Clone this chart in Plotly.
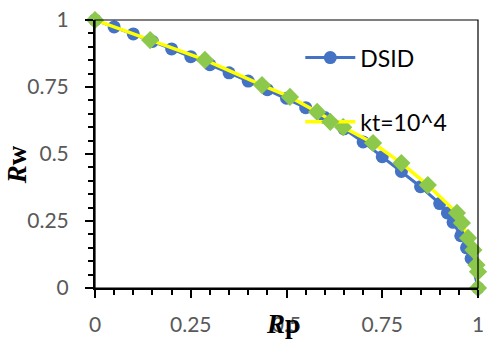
import plotly.graph_objects as go

# ---- data ----
rp_dsid = [0, 0.05, 0.1, 0.15, 0.2, 0.25, 0.3, 0.35, 0.4, 0.45, 0.5, 0.55, 0.6,
           0.65, 0.7, 0.75, 0.8, 0.85, 0.9, 0.92, 0.935, 0.955, 0.97, 0.982, 1.0]
rw_dsid = [1, 0.974, 0.948, 0.92, 0.892, 0.863, 0.833, 0.803, 0.772, 0.74, 0.708,
           0.673, 0.636, 0.594, 0.545, 0.49, 0.435, 0.378, 0.315, 0.28, 0.245,
           0.195, 0.15, 0.11, 0]

rp_kt = [0, 0.144, 0.287, 0.436, 0.509, 0.58, 0.648, 0.726, 0.8, 0.869, 0.945,
         0.958, 0.974, 0.988, 0.996, 1.0, 1.0]
rw_kt = [1, 0.925, 0.851, 0.757, 0.713, 0.657, 0.6, 0.541, 0.466, 0.384, 0.28,
         0.243, 0.187, 0.142, 0.086, 0.061, 0]

tick_vals = [0, 0.25, 0.5, 0.75, 1]
tick_text = ["0", "0.25", "0.5", "0.75", "1"]

series_names = ["DSID", "kt=10^4"]

SANS = "Lato, 'Open Sans', sans-serif"
SERIF = "'Liberation Serif', 'DejaVu Serif', serif"

fig = go.Figure()
fig.add_trace(go.Scatter(
    x=rp_dsid, y=rw_dsid, mode="lines+markers", name=series_names[0],
    line=dict(color="#4472C4", width=3),
    marker=dict(symbol="circle", size=13, color="#4472C4"),
    cliponaxis=False, legend="legend", showlegend=True,
))
fig.add_trace(go.Scatter(
    x=rp_kt, y=rw_kt, mode="lines+markers", name=series_names[1],
    line=dict(color="#FFFF00", width=3.5),
    marker=dict(symbol="diamond", size=14, color="#8CC84B"),
    cliponaxis=False, legend="legend2", showlegend=True,
))

axis_common = dict(
    range=[0, 1], tickvals=tick_vals, ticktext=tick_text, automargin=False,
    showgrid=False, zeroline=False, showline=True, linecolor="black", linewidth=2,
    ticks="outside", ticklen=8, tickwidth=2, tickcolor="black",
    minor=dict(dtick=0.05, ticks="outside", ticklen=5, tickwidth=2, tickcolor="black", showgrid=False),
    tickfont=dict(family=SANS, size=21, color="#595959"),
)

legend_common = dict(xanchor="left", yanchor="top", visible=True,
                     font=dict(family=SANS, size=23, color="black"),
                     bgcolor="rgba(0,0,0,0)", itemwidth=50)

fig.update_layout(
    template="none",
    width=495, height=340,
    margin=dict(l=95, r=17, t=20, b=52),
    plot_bgcolor="white", paper_bgcolor="white",
    showlegend=True,
    xaxis=dict(**axis_common, ticklabelstandoff=9),
    yaxis=dict(**axis_common, ticklabelstandoff=12),
    legend=dict(x=0.536, y=0.94, **legend_common),
    legend2=dict(x=0.536, y=0.70, **legend_common),
    shapes=[dict(type="rect", xref="paper", yref="paper", x0=0, y0=0, x1=1, y1=1,
                 line=dict(color="black", width=1.2), layer="above")],
    annotations=[
        dict(text="<b><i>R</i>p</b>", xref="paper", yref="paper", x=0.49, y=-0.135,
             xanchor="center", yanchor="middle", showarrow=False,
             font=dict(family=SERIF, size=27, color="black")),
        dict(text="<b><i>R</i>w</b>", xref="paper", yref="paper", x=-0.205, y=0.46,
             xanchor="center", yanchor="middle", showarrow=False, textangle=-90,
             font=dict(family=SERIF, size=27, color="black")),
    ],
)

fig.write_html("out.html")
